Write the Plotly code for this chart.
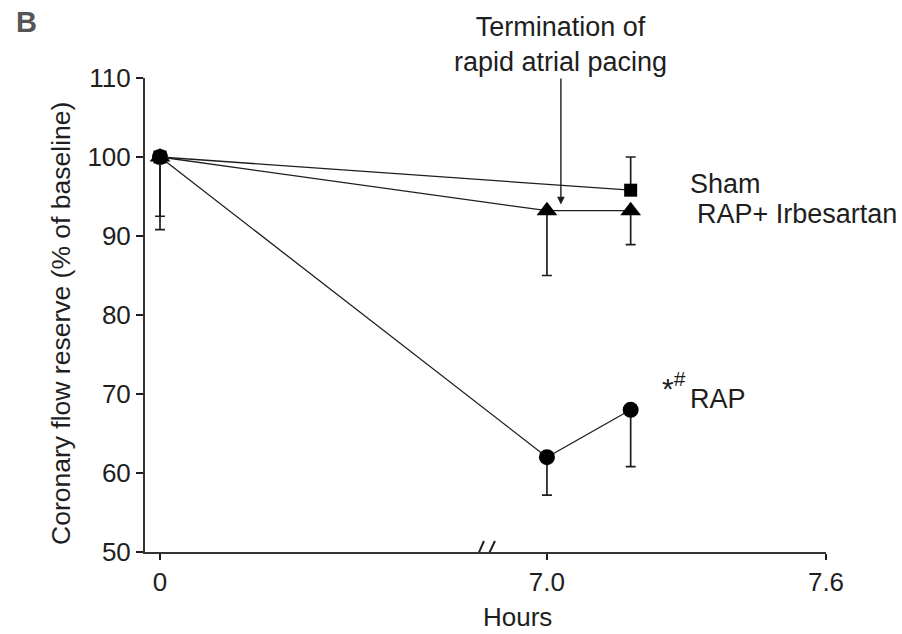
import plotly.graph_objects as go

# ---------------- data ----------------
hours_sham = [0, 7.18]
sham = [100, 95.8]
sham_err_up = [0, 4.2]
sham_err_down = [7.5, 0]

hours_irb = [0, 7.0, 7.18]
irb = [100, 93.2, 93.2]
irb_err_up = [0, 0, 0]
irb_err_down = [9.2, 8.2, 4.3]

hours_rap = [0, 7.0, 7.18]
rap = [100, 62, 68]
rap_err_up = [0, 0, 0]
rap_err_down = [0, 4.8, 7.2]

tick_hours = [0, 7.0, 7.6]
tick_labels = ["0", "7.0", "7.6"]
y_ticks = [50, 60, 70, 80, 90, 100, 110]

ARROW_HOUR = 7.03
ARROW_Y = 94

# ------------- broken-axis transform -------------
LEFT_SPAN = 0.832  # display width of the 0..7.0 h segment (0.6 h == 0.6 units)
BREAK_D = 0.703


def xd(h):
    return h / 7.0 * LEFT_SPAN if h <= 7.0 else LEFT_SPAN + (h - 7.0)


def xs(hs):
    return [xd(h) for h in hs]


FONT = "Liberation Sans, Arial, Helvetica, sans-serif"
INK = "#1e1e1e"
fs = 26

fig = go.Figure()


def add(hs, ys, up, down, symbol, size, name):
    fig.add_trace(go.Scatter(
        x=xs(hs), y=ys, mode="lines+markers", name=name,
        line=dict(color=INK, width=1.3),
        marker=dict(symbol=symbol, size=size, color="black"),
        error_y=dict(type="data", symmetric=False, array=up, arrayminus=down,
                     color=INK, thickness=1.7, width=5),
        cliponaxis=False, showlegend=False,
    ))


add(hours_rap, rap, rap_err_up, rap_err_down, "circle", 16, "RAP")
add(hours_irb, irb, irb_err_up, irb_err_down, "triangle-up", 18, "RAP+ Irbesartan")
add(hours_sham, sham, sham_err_up, sham_err_down, "square", 13, "Sham")

shapes = [
    dict(type="rect", xref="x", yref="y", xsizemode="pixel", ysizemode="pixel",
         xanchor=BREAK_D, yanchor=50, x0=-6, x1=3, y0=-3, y1=3,
         fillcolor="white", line=dict(width=0), layer="above"),
    dict(type="line", xref="x", yref="y", xsizemode="pixel", ysizemode="pixel",
         xanchor=BREAK_D, yanchor=50, x0=-13, x1=-3, y0=-12, y1=11,
         line=dict(color=INK, width=2), layer="above"),
    dict(type="line", xref="x", yref="y", xsizemode="pixel", ysizemode="pixel",
         xanchor=BREAK_D, yanchor=50, x0=-3, x1=8, y0=-12, y1=11,
         line=dict(color=INK, width=2), layer="above"),
]

annotations = [
    # label with arrow pointing to the end of pacing
    dict(x=xd(ARROW_HOUR), y=ARROW_Y, xref="x", yref="y",
         text="Termination of<br>rapid atrial pacing",
         showarrow=True, ax=0, ay=-160, arrowhead=2, arrowsize=1.1,
         arrowwidth=1.4, arrowcolor=INK,
         font=dict(family=FONT, size=27, color=INK)),
    dict(x=0.797, y=96.6, xref="paper", yref="y", text="Sham", showarrow=False,
         xanchor="left", yanchor="middle", font=dict(family=FONT, size=27, color=INK)),
    dict(x=0.807, y=92.8, xref="paper", yref="y", text="RAP+ Irbesartan", showarrow=False,
         xanchor="left", yanchor="middle", font=dict(family=FONT, size=27, color=INK)),
    dict(x=0.797, y=69.4, xref="paper", yref="y", text="RAP", showarrow=False,
         xanchor="left", yanchor="middle", font=dict(family=FONT, size=27, color=INK)),
    dict(x=0.797, y=71.0, xref="paper", yref="y", text="*<sup>#</sup>", showarrow=False,
         xanchor="right", yanchor="middle", font=dict(family=FONT, size=30, color=INK)),
    dict(x=-0.192, y=1.118, xref="paper", yref="paper", text="<b>B</b>", showarrow=False,
         xanchor="left", yanchor="middle", font=dict(family=FONT, size=29, color="#555555")),
    dict(x=(61 - 145) / 681, y=(552 - 324) / 474, xref="paper", yref="paper",
         text="Coronary flow reserve (% of baseline)", textangle=-90, showarrow=False,
         xanchor="center", yanchor="middle", font=dict(family=FONT, size=26.5, color=INK)),
    dict(x=(517 - 145) / 681, y=(552 - 617) / 474, xref="paper", yref="paper",
         text="Hours", showarrow=False, xanchor="center", yanchor="middle",
         font=dict(family=FONT, size=26, color=INK)),
]

fig.update_layout(
    width=902, height=634,
    margin=dict(l=145, r=76, t=78, b=82),
    paper_bgcolor="white", plot_bgcolor="white",
    font=dict(family=FONT, size=fs, color=INK),
    shapes=shapes, annotations=annotations,
    xaxis=dict(range=[-15 / 465, LEFT_SPAN + 0.6], tickvals=xs(tick_hours),
               ticktext=tick_labels, ticks="outside", ticklen=6, tickwidth=1.6,
               tickcolor=INK, showline=True, linecolor="#333333", linewidth=2,
               showgrid=False, zeroline=False, tickfont=dict(size=fs)),
    yaxis=dict(range=[50, 110], tickvals=y_ticks, ticks="outside", ticklen=7,
               tickwidth=1.6, tickcolor=INK, showline=True, linecolor="#333333",
               linewidth=2, showgrid=False, zeroline=False, tickfont=dict(size=fs)),
)

fig.write_html("out.html")
